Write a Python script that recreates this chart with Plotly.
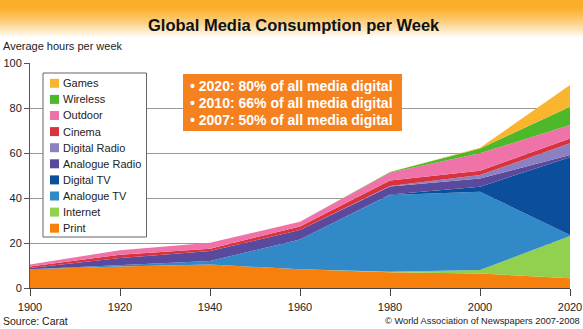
import plotly.graph_objects as go

W, H = 583, 329
ML, MR, MT, MB = 30, 13, 63, 41
PW, PH = W - ML - MR, H - MT - MB

years = [1900, 1920, 1940, 1960, 1980, 2000, 2020]

series_names = ["Print", "Internet", "Analogue TV", "Digital TV", "Analogue Radio",
                "Digital Radio", "Cinema", "Outdoor", "Wireless", "Games"]
print_v = [8.3, 9.6, 10.5, 8.3, 7.0, 6.5, 4.3]
internet_v = [0, 0, 0, 0, 0.2, 1.5, 18.8]
analogue_tv_v = [0, 0.7, 1.5, 13.3, 34.1, 34.8, 0.5]
digital_tv_v = [0, 0, 0, 0, 0.3, 2.2, 34.5]
analogue_radio_v = [0.6, 3.0, 4.4, 4.2, 3.5, 3.7, 1.0]
digital_radio_v = [0, 0, 0, 0, 0.2, 1.5, 5.2]
cinema_v = [0.7, 1.5, 1.1, 1.5, 2.5, 1.9, 2.2]
outdoor_v = [0.9, 2.0, 2.6, 2.2, 3.5, 7.8, 5.9]
wireless_v = [0, 0, 0, 0, 0.3, 2.1, 8.2]
games_v = [0, 0, 0, 0, 0, 0.3, 9.6]
series_values = [print_v, internet_v, analogue_tv_v, digital_tv_v, analogue_radio_v,
                 digital_radio_v, cinema_v, outdoor_v, wireless_v, games_v]
colors = ["#f7800c", "#92d050", "#3189c8", "#0b4e9b", "#5a4a9e",
          "#8b80c2", "#d8323c", "#ef73a9", "#4db829", "#fab52f"]

y_ticks = [0, 20, 40, 60, 80, 100]
x_ticks = [1900, 1920, 1940, 1960, 1980, 2000, 2020]

title_text = "Global Media Consumption per Week"
y_label = "Average hours per week"
note_lines = ["• 2020: 80% of all media digital",
              "• 2010: 66% of all media digital",
              "• 2007: 50% of all media digital"]
source_text = "Source: Carat"
copyright_text = "© World Association of Newspapers 2007-2008"


def px(x):
    return (x - ML) / PW


def py(y):
    return (H - MB - y) / PH


fig = go.Figure()
for name, vals, col in zip(series_names, series_values, colors):
    fig.add_trace(go.Scatter(x=years, y=vals, name=name, stackgroup="one",
                             mode="lines", line=dict(width=0, color=col),
                             fillcolor=col, showlegend=False))

shapes = []
annotations = []

# header gradient
top = (250, 174, 42)
N = 38
for i in range(N):
    t = max(0.0, (i - 6) / (N - 7))
    t = t ** 1.3
    c = tuple(int(round(top[k] + (255 - top[k]) * t)) for k in range(3))
    shapes.append(dict(type="rect", xref="paper", yref="paper", layer="below",
                       x0=px(0), x1=px(W), y0=py(i + 1), y1=py(i),
                       line=dict(width=0), fillcolor="rgb(%d,%d,%d)" % c))

# legend box
shapes.append(dict(type="rect", xref="paper", yref="paper", x0=px(43), x1=px(146.5),
                   y0=py(237), y1=py(73), fillcolor="white",
                   line=dict(color="#666", width=1)))
for i, idx in enumerate(range(len(series_names) - 1, -1, -1)):
    cy = 83.3 + i * 16.1
    shapes.append(dict(type="rect", xref="paper", yref="paper",
                       x0=px(50), x1=px(59), y0=py(cy + 4.5), y1=py(cy - 4.5),
                       fillcolor=colors[idx], line=dict(width=0)))
    annotations.append(dict(text=series_names[idx], xref="paper", yref="paper",
                            x=px(61), y=py(cy), xanchor="left", yanchor="middle",
                            showarrow=False, font=dict(size=11, color="#222")))

# orange note box
shapes.append(dict(type="rect", xref="paper", yref="paper", x0=px(183), x1=px(402),
                   y0=py(131), y1=py(74), fillcolor="#f5821f", line=dict(width=0)))
for i, line in enumerate(note_lines):
    annotations.append(dict(text="<b>%s</b>" % line, xref="paper", yref="paper",
                            x=px(188), y=py(86 + i * 17), xanchor="left", yanchor="middle",
                            showarrow=False, font=dict(size=14, color="white")))

annotations += [
    dict(text="<b>%s</b>" % title_text, xref="paper", yref="paper", x=px(294), y=py(25),
         xanchor="center", yanchor="middle", showarrow=False,
         font=dict(size=16.5, color="#111")),
    dict(text=y_label, xref="paper", yref="paper", x=px(1), y=py(46),
         xanchor="left", yanchor="middle", showarrow=False,
         font=dict(size=11, color="#222")),
    dict(text=source_text, xref="paper", yref="paper", x=px(1), y=py(321),
         xanchor="left", yanchor="middle", showarrow=False,
         font=dict(size=10.5, color="#222")),
    dict(text=copyright_text, xref="paper", yref="paper", x=px(582), y=py(321),
         xanchor="right", yanchor="middle", showarrow=False,
         font=dict(size=9.3, color="#222")),
]

fig.update_layout(
    width=W, height=H, autosize=False,
    margin=dict(l=ML, r=MR, t=MT, b=MB, pad=0),
    paper_bgcolor="white", plot_bgcolor="rgba(0,0,0,0)",
    font=dict(family="Liberation Sans, Arial, sans-serif", color="#222"),
    shapes=shapes, annotations=annotations, showlegend=False,
    xaxis=dict(range=[1900, 2020], tickvals=x_ticks, ticks="outside", ticklen=7,
               tickcolor="#444", showline=True, linecolor="#444", showgrid=False,
               zeroline=False, automargin=False, ticklabelstandoff=2,
               tickfont=dict(size=11, color="#222")),
    yaxis=dict(range=[0, 100], tickvals=y_ticks, ticks="outside", ticklen=5,
               tickcolor="#555", showline=True, linecolor="#555", gridcolor="#999",
               zeroline=False, automargin=False, tickfont=dict(size=11, color="#222")),
)

fig.write_html("out.html")
